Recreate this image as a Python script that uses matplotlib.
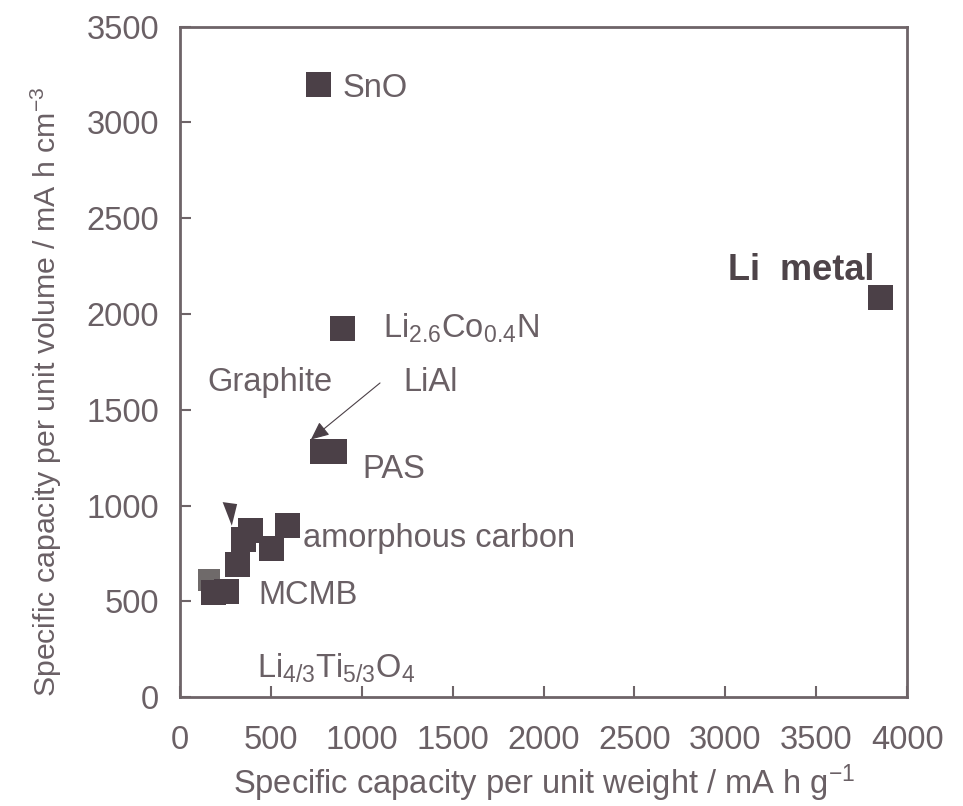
import matplotlib
matplotlib.use("Agg")
import matplotlib.pyplot as plt

plt.rcParams['font.family'] = ['Liberation Sans', 'DejaVu Sans']
plt.rcParams['mathtext.fontset'] = 'custom'
plt.rcParams['mathtext.rm'] = 'Liberation Sans'
plt.rcParams['mathtext.it'] = 'Liberation Sans'
plt.rcParams['mathtext.bf'] = 'Liberation Sans:bold'

# ---- data (mA h g^-1, mA h cm^-3) ----
sq_x = [760, 3850, 893, 782, 848, 383, 347, 501, 590, 314, 253, 182]
sq_y = [3200, 2090, 1925, 1285, 1285, 870, 826, 778, 899, 695, 553, 549]
grey_x = [160]
grey_y = [611]
tri_x = [268]
tri_y = [975]

labels = ['SnO', 'Li  metal', r'Li$_{2.6}$Co$_{0.4}$N', 'Graphite', 'LiAl', 'PAS',
          'amorphous carbon', 'MCMB', r'Li$_{4/3}$Ti$_{5/3}$O$_{4}$']
label_x = [895, 3015, 1115, 150, 1230, 1005, 675, 430, 425]
label_y = [3175, 2225, 1925, 1640, 1640, 1190, 830, 530, 150]

arrow_from = (1100, 1640)
arrow_to = (720, 1345)

xticks = [0, 500, 1000, 1500, 2000, 2500, 3000, 3500, 4000]
yticks = [0, 500, 1000, 1500, 2000, 2500, 3000, 3500]

mark_c = '#4b4047'
text_c = '#6a6065'
axis_c = '#6e6468'
fs = 23.5

fig = plt.figure(figsize=(9.63, 8.06), dpi=100)
ax = fig.add_axes([0.187, 0.135, 0.755, 0.832])

ax.plot(sq_x, sq_y, 's', color=mark_c, markersize=18, markeredgewidth=0, linestyle='none')
ax.plot(grey_x, grey_y, 's', color='#6f6a6a', markersize=16, markeredgewidth=0, linestyle='none', zorder=1)
tri_marker = [(-0.45, 0.55), (0.5, 0.42), (0.15, -1.0)]
ax.plot(tri_x, tri_y, linestyle='none', marker=tri_marker, color=mark_c, markersize=22, markeredgewidth=0)

for t, x, y in zip(labels, label_x, label_y):
    if t.startswith('Li  metal'):
        ax.text(x, y, t, color='#4e4449', fontsize=26, fontweight='bold', va='center', ha='left')
    else:
        ax.text(x, y, t, color=text_c, fontsize=fs, va='center', ha='left')

ax.annotate('', xy=arrow_to, xytext=arrow_from,
            arrowprops=dict(arrowstyle='-|>,head_length=1.1,head_width=0.5', color=mark_c, lw=0.8,
                            shrinkA=0, shrinkB=0))

ax.set_xlim(0, 4000)
ax.set_ylim(0, 3500)
ax.set_xticks(xticks)
ax.set_yticks(yticks)
ax.tick_params(direction='in', length=8, width=1.5, color=axis_c, labelcolor=text_c,
               labelsize=fs, pad=15)
ax.tick_params(axis='x', pad=20)
for s in ax.spines.values():
    s.set_color(axis_c)
    s.set_linewidth(2)

ax.set_xlabel(r'Specific capacity per unit weight / mA h g$^{-1}$', fontsize=fs, color=text_c, labelpad=5)
ax.set_ylabel(r'Specific capacity per unit volume / mA h cm$^{-3}$', fontsize=21.8, color=text_c)
ax.yaxis.set_label_coords(-0.16, 0.455)

fig.savefig('out.png', dpi=100)
